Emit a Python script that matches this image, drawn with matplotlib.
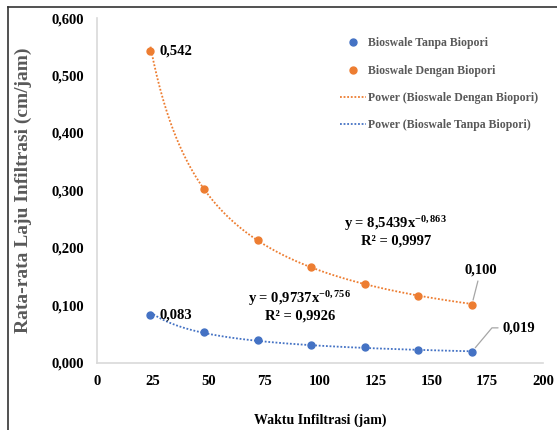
import numpy as np
import matplotlib
matplotlib.use('Agg')
from matplotlib import pyplot as plt
from matplotlib.lines import Line2D

plt.rcParams['font.family'] = ['Liberation Serif', 'DejaVu Serif']
plt.rcParams['mathtext.fontset'] = 'custom'
plt.rcParams['mathtext.rm'] = 'Liberation Serif:bold'
plt.rcParams['mathtext.bf'] = 'Liberation Serif:bold'
plt.rcParams['mathtext.it'] = 'Liberation Serif:bold'

waktu = [24, 48, 72, 96, 120, 144, 168]
tanpa_biopori = [0.083, 0.053, 0.040, 0.032, 0.027, 0.023, 0.019]
dengan_biopori = [0.542, 0.303, 0.214, 0.167, 0.137, 0.116, 0.100]

# koefisien trendline power (y = a*x^b)
a_dengan, b_dengan = 8.5439, -0.863
a_tanpa, b_tanpa = 0.9737, -0.756

x_ticks = [0, 25, 50, 75, 100, 125, 150, 175, 200]
y_ticks = [0.0, 0.1, 0.2, 0.3, 0.4, 0.5, 0.6]

biru = '#4472C4'
oranye = '#ED7D31'
abu = '#595959'

fig = plt.figure(figsize=(5.57, 4.30), dpi=100)
ax = fig.add_axes([0.174, 0.156, 0.801, 0.802])

xs = np.linspace(waktu[0], waktu[-1], 200)
ax.plot(xs, a_dengan * xs ** b_dengan, linestyle=(0, (1, 1)), color=oranye, lw=1.3, zorder=2)
ax.plot(xs, a_tanpa * xs ** b_tanpa, linestyle=(0, (1, 1)), color=biru, lw=1.3, zorder=2)
ax.plot(waktu, tanpa_biopori, 'o', color=biru, ms=5, zorder=3)
ax.plot(waktu, dengan_biopori, 'o', color=oranye, ms=5, zorder=3)

ax.set_xlim(0, 200)
ax.set_ylim(0, 0.6)
ax.set_xticks(x_ticks)
ax.set_yticks(y_ticks)
ax.set_yticklabels([('%.3f' % v).replace('.', ',') for v in y_ticks])
for lab in ax.get_xticklabels() + ax.get_yticklabels():
    lab.set_fontweight('bold')
    lab.set_fontsize(10.5)
ax.tick_params(length=0, pad=9)
for s in ['top', 'right']:
    ax.spines[s].set_visible(False)
for s in ['left', 'bottom']:
    ax.spines[s].set_color('#D9D9D9')
    ax.spines[s].set_linewidth(1.2)

ax.set_xlabel('Waktu Infiltrasi (jam)', fontsize=10, fontweight='bold', labelpad=18)
ax.set_ylabel('Rata-rata Laju Infiltrasi (cm/jam)', fontsize=14, fontweight='bold',
              color=abu, labelpad=14)

# label data
ax.text(waktu[0] + 4, dengan_biopori[0], '0,542', fontsize=10.5, fontweight='bold', va='center')
ax.text(waktu[0] + 4, tanpa_biopori[0], '0,083', fontsize=10.5, fontweight='bold', va='center')
ax.annotate('0,100', xy=(waktu[-1], dengan_biopori[-1]), xytext=(172, 0.161),
            fontsize=10.5, fontweight='bold', ha='center', va='center',
            arrowprops=dict(arrowstyle='-', color='#A6A6A6', lw=0.9,
                            shrinkA=1, shrinkB=4))
ax.annotate('0,019', xy=(waktu[-1], tanpa_biopori[-1]), xytext=(189, 0.061),
            fontsize=10.5, fontweight='bold', ha='center', va='center',
            arrowprops=dict(arrowstyle='-', color='#A6A6A6', lw=0.9,
                            connectionstyle='angle,angleA=0,angleB=50,rad=0',
                            shrinkA=1, shrinkB=4))

# persamaan trendline
ax.text(134, 0.230, 'y = 8,5439x$^{-0,863}$\nR² = 0,9997', fontsize=10.5,
        fontweight='bold', ha='center', va='center', linespacing=1.15)
ax.text(91, 0.100, 'y = 0,9737x$^{-0,756}$\nR² = 0,9926', fontsize=10.5,
        fontweight='bold', ha='center', va='center', linespacing=1.15)

handles = [
    Line2D([], [], marker='o', color=biru, ls='none', ms=5),
    Line2D([], [], marker='o', color=oranye, ls='none', ms=5),
    Line2D([], [], color=oranye, ls=(0, (1, 1)), lw=1.3),
    Line2D([], [], color=biru, ls=(0, (1, 1)), lw=1.3),
]
labels = ['Bioswale Tanpa Biopori', 'Bioswale Dengan Biopori',
          'Power (Bioswale Dengan Biopori)', 'Power (Bioswale Tanpa Biopori)']
leg = ax.legend(handles, labels, loc='upper left', bbox_to_anchor=(0.52, 0.975),
                frameon=False, fontsize=8.5, handlelength=2.2, handletextpad=0.2,
                labelspacing=1.3, labelcolor=abu)
for t in leg.get_texts():
    t.set_fontweight('bold')

# bingkai luar
fig.add_artist(Line2D([0.0144, 0.0144], [0.0, 0.984], color='#333333', lw=1.2))
fig.add_artist(Line2D([0.0144, 1.0], [0.984, 0.984], color='#333333', lw=1.2))

plt.savefig('out.png', dpi=100)
